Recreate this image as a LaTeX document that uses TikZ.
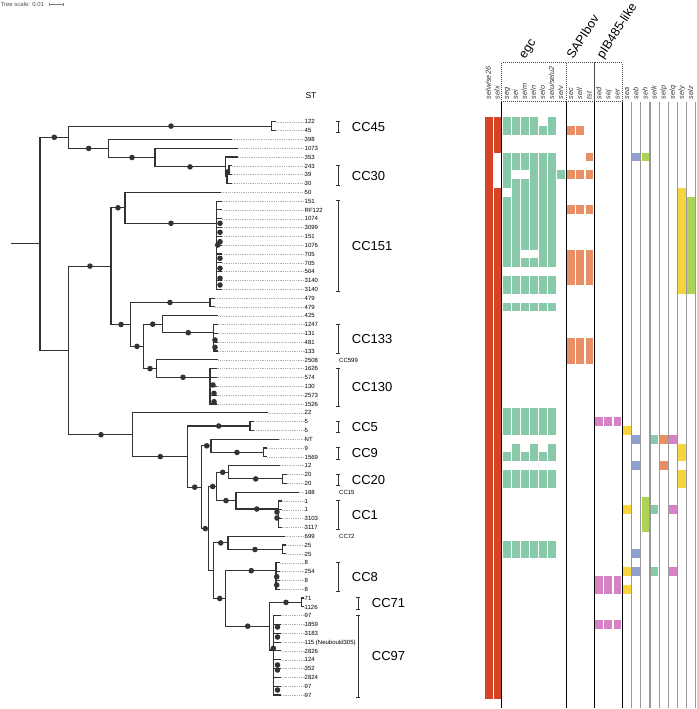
\documentclass[tikz,border=0pt]{standalone}
\usepackage{fontspec}
\setmainfont{Liberation Sans}
\usetikzlibrary{arrows.meta}
\definecolor{redsel}{RGB}{214,66,38}
\definecolor{egcgreen}{RGB}{136,201,170}
\definecolor{sapiorange}{RGB}{234,142,102}
\definecolor{pibpink}{RGB}{214,130,196}
\definecolor{sebblue}{RGB}{143,160,207}
\definecolor{seayellow}{RGB}{246,212,62}
\definecolor{sehlime}{RGB}{174,211,86}
\definecolor{treegray}{RGB}{51,51,51}
\def\colx{{488.7,497.5,506.8,515.8,524.8,533.8,542.8,551.9,560.9,571.0,580.1,589.4,599.2,608.2,617.4,626.9,636.2,645.4,654.5,663.6,672.7,681.8,690.9}}

\begin{document}
\begin{tikzpicture}[x=1pt, y=-1pt,
    br/.style={draw=treegray, line width=1.15pt},
    bs/.style={circle, fill=treegray, inner sep=0pt, minimum size=5.6pt},
    lead/.style={draw=black!30, line width=0.4pt, dash pattern=on 0.7pt off 1.1pt},
    leaf/.style={font=\fontsize{6}{6}\selectfont, anchor=west, inner sep=0pt,
                 text height=4.4pt, text depth=0pt, text=black},
    ccl/.style={font=\fontsize{13}{13}\selectfont, anchor=west, inner sep=0pt,
                text height=9.3pt, text depth=0pt},
    ccbar/.style={draw=treegray, line width=0.8pt, {Bar[width=3.5pt]}-{Bar[width=3.5pt]}},
    gene/.style={font=\fontsize{7.3}{7.3}\selectfont\itshape, rotate=90, anchor=west,
                 inner sep=0pt, text height=4.2pt, text depth=0pt, text=black!80},
    grp/.style={font=\fontsize{12.5}{12.5}\selectfont, rotate=57, anchor=base west,
                inner sep=0pt, text depth=0pt},
    dotbox/.style={draw=black!70, line width=0.6pt, dash pattern=on 0.8pt off 1.2pt},
    sepk/.style={draw=black, line width=0.9pt},
    sepg/.style={draw=black!40, line width=1.1pt}
]
\useasboundingbox (0,0) rectangle (696,709);

%% -- tree scale ---------------------------------------------------------
\node[leaf, text=black!70] (scale) at (0.5,4.3) {Tree scale: 0.01};
\coordinate (sc0) at (49.3,4.3);
\coordinate (sc1) at (63.3,4.3);
\draw[draw=black!50, line width=0.5pt, {Bar[width=3pt]}-{Bar[width=3pt]}] (sc0) -- (sc1);

\node[font=\fontsize{8.5}{8.5}\selectfont] (st) at (311,96) {ST};

%% -- leaves -------------------------------------------------------------
\foreach \i/\st/\tx in {1/122/276, 2/45/276, 3/398/231.7, 4/1073/238.3, 5/353/238,
    6/243/231.7, 7/39/231.7, 8/30/231.7, 9/50/221, 10/151/222, 11/RF122/222,
    12/1074/222, 13/3099/222, 14/151/222, 15/1076/222, 16/705/222, 17/705/222,
    18/504/222, 19/3140/222, 20/3140/222, 21/479/215, 22/479/215, 23/425/218.3,
    24/1247/218, 25/131/218, 26/481/218, 27/133/218, 28/2508/218.3, 29/1626/216.5,
    30/574/216.5, 31/130/216.5, 32/2573/216.5, 33/1526/216.5, 34/22/268.3, 35/5/254,
    36/5/254, 37/NT/279, 38/9/267, 39/1569/267, 40/12/280, 41/20/286.5, 42/20/286.5,
    43/188/299.3, 44/1/282, 45/1/282, 46/3103/282, 47/3117/282, 48/699/285,
    49/25/286, 50/25/286, 51/8/280, 52/254/280, 53/8/280, 54/8/280, 55/71/304,
    56/1126/304, 57/97/281, 58/1859/281, 59/3183/281, 60/{115 (Neubould305)}/281,
    61/2826/281, 62/124/281, 63/352/281, 64/2824/281, 65/97/281, 66/97/281}{
  \pgfmathsetmacro\yy{121.7+(\i-1)*8.82}
  \coordinate (t\i) at (\tx,\yy);
  \node[leaf] (l\i) at (304.5,\yy) {\st};
  \draw[lead] (t\i) -- (l\i.west);
}

%% -- internal nodes -----------------------------------------------------
\coordinate (stem)  at (11,243.9);
\coordinate (root)  at (40,243.9);
\coordinate (A)     at (68.3,137.3);
\coordinate (K45)   at (271.5,126.1);
\coordinate (A2)    at (108.3,148.4);
\coordinate (A3)    at (155,157.5);
\coordinate (A4)    at (225.3,166.9);
\coordinate (A5)    at (227,176.8);
\coordinate (A6)    at (229,170.2);
\coordinate (B)     at (68.3,350.4);
\coordinate (B1)    at (111,266.1);
\coordinate (B1a)   at (125,207.8);
\coordinate (K151)  at (216.7,223.3);
\coordinate (B1b)   at (130.7,324.5);
\coordinate (B1b1)  at (210,302.5);
\coordinate (B1b2)  at (143.3,346.4);
\coordinate (B1b2a) at (162.3,324.2);
\coordinate (K133)  at (213.3,332.7);
\coordinate (B1b2b) at (156.7,368.6);
\coordinate (K130)  at (210,377.3);
\coordinate (B2)    at (132.7,434.7);
\coordinate (B2b)   at (187.7,456.6);
\coordinate (K5)    at (250,426);
\coordinate (B2c)   at (201.7,487.2);
\coordinate (B2d)   at (211,445.8);
\coordinate (K9)    at (263.3,452.45);
\coordinate (B2e)   at (208.7,528.6);
\coordinate (B2f)   at (216.7,486.5);
\coordinate (B2g)   at (228.7,472.3);
\coordinate (K20)   at (282.7,478.9);
\coordinate (B2h)   at (236,500.6);
\coordinate (K1)    at (278.3,509);
\coordinate (B2i)   at (213.3,570.7);
\coordinate (B2j)   at (228,542.9);
\coordinate (K25)   at (282.7,549.5);
\coordinate (B2k)   at (225.7,598.5);
\coordinate (K8)    at (276,570.7);
\coordinate (K7197) at (269.3,626.2);
\coordinate (K71)   at (301.7,602.4);
\coordinate (K97)   at (273.3,650);

%% -- branches -----------------------------------------------------------
\draw[br] (stem) -- (root);
% branches carrying a support dot
\foreach \p/\c/\d in {root/A/54.3, A/K45/171, A/A2/88.7, A2/A3/132, A3/A4/190,
    B/B1/90, B1/B1a/118, B1a/K151/171, B1/B1b/121, B1b/B1b1/170, B1b/B1b2/137,
    B1b2/B1b2a/152.7, B1b2a/K133/188.3, B1b2/B1b2b/150, B1b2b/K130/183,
    B/B2/101, B2/B2b/160.3, B2b/K5/218.7, B2b/B2c/194.7, B2c/B2d/206.7,
    B2d/K9/237, B2c/B2e/205.3, B2e/B2f/212.7, B2f/B2g/222.7, B2g/K20/255.7,
    B2f/B2h/226, B2h/K1/256.7, B2i/B2j/220.7, B2j/K25/255, B2i/B2k/219.7,
    B2k/K8/251.3, B2k/K7197/247.7, K7197/K71/286}{
  \draw[br] (\p) |- (\c);
  \node[bs] at (\d,0 |- \c) {};
}
% short branches
\foreach \p/\c in {root/B, A4/A5, A5/A6, B2e/B2i, K7197/K97}{
  \draw[br] (\p) |- (\c);
}
% leaf branches
\foreach \p/\i in {A2/3, A3/4, A4/5, A5/8, B1a/9, B1b2a/23, B1b2b/28, B2/34,
    B2d/37, B2g/40, B2h/43, B2j/48}{
  \draw[br] (\p) |- (t\i);
}
\foreach \c/\a/\b in {K45/1/2, A6/6/7, K151/10/20, B1b1/21/22, K133/24/27,
    K130/29/33, K5/35/36, K9/38/39, K20/41/42, K1/44/47, K25/49/50, K8/51/54,
    K71/55/56, K97/57/66}{
  \foreach \i in {\a,...,\b}{
    \draw[br] (\c) |- (t\i);
  }
}
% dots inside the dense clades
\foreach \x/\y in {227.5/172, 220/223.3, 220/232.3, 220/241.7, 217.7/245,
    220/258.3, 220/268.3, 220/278.3, 220/285, 215/340, 215/347.3, 213/385,
    214/393.3, 214/401.7, 277/512, 277/518, 276.7/576.7, 276.7/585,
    277.5/627, 277.5/637, 273.3/648.3, 277.5/665, 277.5/670, 277.5/690}{
  \node[bs] at (\x,\y) {};
}

%% -- clonal complexes ---------------------------------------------------
\foreach \cc/\a/\b/\bx in {CC45/1/2/338, CC30/6/8/338, CC151/10/20/338,
    CC133/24/27/338, CC130/29/33/338, CC5/35/36/338, CC9/38/39/338,
    CC20/41/42/338, CC1/44/47/338, CC8/51/54/338, CC71/55/56/358, CC97/57/66/358}{
  \pgfmathsetmacro\ya{121.7+(\a-1)*8.82-1}
  \pgfmathsetmacro\yb{121.7+(\b-1)*8.82+2.5}
  \pgfmathsetmacro\ym{(\ya+\yb)/2}
  \pgfmathsetmacro\tx{\bx+13.7}
  \draw[ccbar] (\bx,\ya) -- (\bx,\yb);
  \node[ccl] (\cc) at (\tx,\ym) {\cc};
}
\node[leaf] (cc599) at (339,359.84) {CC599};
\node[leaf] (cc15)  at (339,492.14) {CC15};
\node[leaf] (cc72)  at (339,536.24) {CC72};

%% -- heatmap grid -------------------------------------------------------
\draw[dotbox] (501.7,62.7) rectangle (566.7,101.7);
\draw[dotbox] (566.7,62.7) rectangle (594.7,101.7);
\draw[dotbox] (594.7,62.7) rectangle (622.3,101.7);
\foreach \x in {501.7,566.7,594.7,622.3}{
  \draw[sepk] (\x,101.7) -- (\x,708);
}
\foreach \x in {631.6,640.8,650,659.1,668.2,677.3,686.4,695.5}{
  \draw[sepg] (\x,101.7) -- (\x,708);
}
\node[grp] (egc)  at (525,59.5) {egc};
\node[grp] (sapi) at (573,59.5) {SAPIbov};
\node[grp] (pib)  at (603,59.5) {pIB485-like};

\node[gene] at (488.7,99.5) {selw/se26};
\node[gene] at (551.9,99.5) {selu/selu2};
\foreach \c/\g in {1/selx, 2/seg, 3/sei, 4/selm, 5/seln, 6/selo, 8/selv, 9/sec,
    10/sell, 11/tst, 12/sed, 13/sej, 14/ser, 15/sea, 16/seb, 17/seh, 18/selk,
    19/selp, 20/selq, 21/sely, 22/selz}{
  \pgfmathsetmacro\cx{\colx[\c]}
  \node[gene] at (\cx,99.5) {\g};
}

%% -- heatmap cells (column/first row/last row/colour) -------------------
\foreach \c/\a/\b/\k in {0/1/66/redsel, 1/1/4/redsel, 1/9/66/redsel,
    2/1/2/egcgreen, 2/5/8/egcgreen, 2/10/17/egcgreen, 2/19/20/egcgreen,
    2/22/22/egcgreen, 2/34/36/egcgreen, 2/39/39/egcgreen, 2/41/42/egcgreen,
    2/49/50/egcgreen,
    3/1/2/egcgreen, 3/5/6/egcgreen, 3/8/17/egcgreen, 3/19/20/egcgreen,
    3/22/22/egcgreen, 3/34/36/egcgreen, 3/38/39/egcgreen, 3/41/42/egcgreen,
    3/49/50/egcgreen,
    4/1/2/egcgreen, 4/5/6/egcgreen, 4/8/15/egcgreen, 4/17/17/egcgreen,
    4/19/20/egcgreen, 4/22/22/egcgreen, 4/34/36/egcgreen, 4/39/39/egcgreen,
    4/41/42/egcgreen, 4/49/50/egcgreen,
    5/1/2/egcgreen, 5/5/15/egcgreen, 5/17/17/egcgreen, 5/19/20/egcgreen,
    5/22/22/egcgreen, 5/34/36/egcgreen, 5/38/39/egcgreen, 5/41/42/egcgreen,
    5/49/50/egcgreen,
    6/2/2/egcgreen, 6/5/17/egcgreen, 6/19/20/egcgreen, 6/22/22/egcgreen,
    6/34/36/egcgreen, 6/39/39/egcgreen, 6/41/42/egcgreen, 6/49/50/egcgreen,
    7/1/2/egcgreen, 7/5/17/egcgreen, 7/19/20/egcgreen, 7/22/22/egcgreen,
    7/34/36/egcgreen, 7/38/39/egcgreen, 7/41/42/egcgreen, 7/49/50/egcgreen,
    8/7/7/egcgreen,
    9/2/2/sapiorange, 9/7/7/sapiorange, 9/11/11/sapiorange, 9/16/19/sapiorange,
    9/26/28/sapiorange,
    10/2/2/sapiorange, 10/7/7/sapiorange, 10/11/11/sapiorange,
    10/16/19/sapiorange, 10/26/28/sapiorange,
    11/5/5/sapiorange, 11/7/7/sapiorange, 11/11/11/sapiorange,
    11/16/19/sapiorange, 11/26/28/sapiorange,
    12/35/35/pibpink, 12/53/54/pibpink, 12/58/58/pibpink,
    13/35/35/pibpink, 13/53/54/pibpink, 13/58/58/pibpink,
    14/35/35/pibpink, 14/53/54/pibpink, 14/58/58/pibpink,
    15/36/36/seayellow, 15/45/45/seayellow, 15/52/52/seayellow, 15/54/54/seayellow,
    16/5/5/sebblue, 16/37/37/sebblue, 16/40/40/sebblue, 16/50/50/sebblue,
    16/52/52/sebblue,
    17/5/5/sehlime, 17/44/47/sehlime,
    18/37/37/egcgreen, 18/45/45/egcgreen, 18/52/52/egcgreen,
    19/37/37/sapiorange, 19/40/40/sapiorange,
    20/37/37/pibpink, 20/45/45/pibpink, 20/52/52/pibpink,
    21/9/20/seayellow, 21/38/39/seayellow, 21/41/42/seayellow,
    22/10/20/sehlime}{
  \pgfmathsetmacro\cx{\colx[\c]}
  \pgfmathsetmacro\ya{121.7+(\a-1)*8.82-4.41}
  \pgfmathsetmacro\yb{121.7+(\b-1)*8.82+4.41}
  \fill[\k] (\cx-3.9,\ya) rectangle (\cx+3.9,\yb);
}
\end{tikzpicture}
\end{document}
